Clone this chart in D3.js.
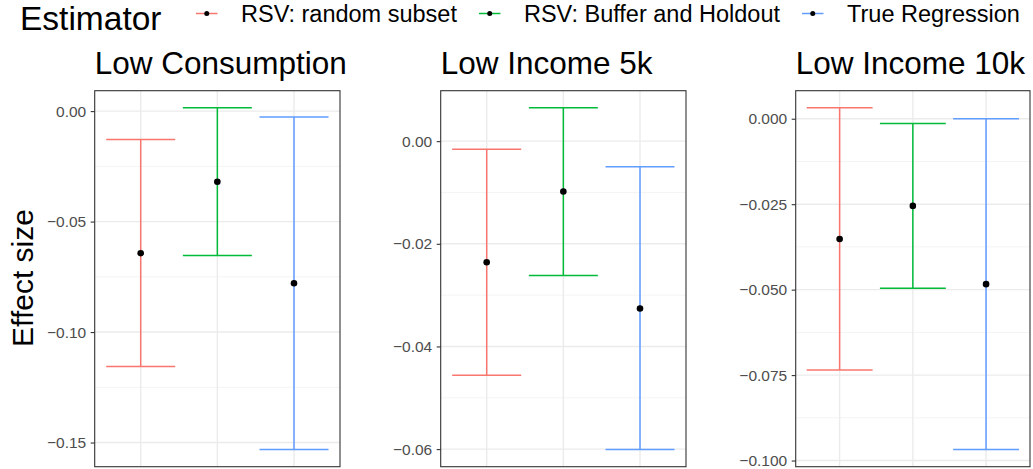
<!DOCTYPE html>
<html>
<head>
<meta charset="utf-8">
<script src="https://cdn.jsdelivr.net/npm/d3@7"></script>
<style>
  html, body { margin: 0; padding: 0; background: #ffffff; }
  svg { display: block; font-family: "Liberation Sans", Arial, Helvetica, sans-serif; }
</style>
</head>
<body>
<svg id="chart" width="1033" height="469"></svg>
<script>
// Estimators compared in every panel
const estimators = ["RSV: random subset", "RSV: Buffer and Holdout", "True Regression"];
const estimatorColors = ["#F8766D", "#00BA38", "#619CFF"];

// Outcomes, one panel each
const outcomes = ["Low Consumption", "Low Income 5k", "Low Income 10k"];

// Point estimates and confidence bounds, [outcome][estimator]
const pointEst = [
  [-0.0643, -0.0320, -0.0779],
  [-0.0236, -0.0098, -0.0326],
  [-0.0352, -0.0255, -0.0484]
];
const lowerCI = [
  [-0.1156, -0.0653, -0.1532],
  [-0.0456, -0.0262, -0.0601],
  [-0.0735, -0.0496, -0.0968]
];
const upperCI = [
  [-0.0129, 0.0015, -0.0027],
  [-0.0016, 0.0065, -0.0050],
  [0.0032, -0.0014, 0.0000]
];

// Y axis breaks and their labels per panel
const yTicks = [
  [0, -0.05, -0.10, -0.15],
  [0, -0.02, -0.04, -0.06],
  [0, -0.025, -0.050, -0.075, -0.100]
];
const yTickLabels = [
  ["0.00", "\u22120.05", "\u22120.10", "\u22120.15"],
  ["0.00", "\u22120.02", "\u22120.04", "\u22120.06"],
  ["0.000", "\u22120.025", "\u22120.050", "\u22120.075", "\u22120.100"]
];

const yTitle = "Effect size";
const legendTitle = "Estimator";

// ---- layout ----
const svg = d3.select("#chart");
const panelLeft = [94.7, 440.7, 795.7];
const panelRight = [340, 686, 1030];
const panelTop = 90.7, panelBottom = 466.7;

const gridMajor = "#EBEBEB";
const gridMinor = "#F4F4F4";

outcomes.forEach((name, p) => {
  const L = panelLeft[p], R = panelRight[p];
  const g = svg.append("g");

  // y scale with 5% expansion of the data range
  const lo = d3.min(lowerCI[p]), hi = d3.max(upperCI[p]);
  const pad = (hi - lo) * 0.05;
  const y = d3.scaleLinear().domain([lo - pad, hi + pad]).range([panelBottom, panelTop]);

  // discrete x positions with 0.6 step padding at either end
  const x = d3.scalePoint().domain(estimators).range([L, R]).padding(0.6);
  const halfW = x.step() * 0.45;

  // minor grid midway between breaks
  const ticks = yTicks[p];
  const stepT = ticks[0] - ticks[1];
  const minor = [];
  for (let v = ticks[0] + stepT / 2; v >= lo - pad - 1e-9; v -= stepT) {
    if (v <= hi + pad) minor.push(v);
  }
  g.selectAll("line.minor").data(minor).join("line")
    .attr("x1", L).attr("x2", R)
    .attr("y1", d => y(d)).attr("y2", d => y(d))
    .attr("stroke", gridMinor).attr("stroke-width", 1);

  g.selectAll("line.majorY").data(ticks).join("line")
    .attr("x1", L).attr("x2", R)
    .attr("y1", d => y(d)).attr("y2", d => y(d))
    .attr("stroke", gridMajor).attr("stroke-width", 1.4);

  g.selectAll("line.majorX").data(estimators).join("line")
    .attr("x1", d => x(d)).attr("x2", d => x(d))
    .attr("y1", panelTop).attr("y2", panelBottom)
    .attr("stroke", gridMajor).attr("stroke-width", 1.4);

  // error bars
  estimators.forEach((est, i) => {
    const cx = x(est);
    const col = estimatorColors[i];
    const eb = g.append("g").attr("stroke", col).attr("stroke-width", 1.5).attr("fill", "none");
    eb.append("line").attr("x1", cx).attr("x2", cx)
      .attr("y1", y(upperCI[p][i])).attr("y2", y(lowerCI[p][i]));
    eb.append("line").attr("x1", cx - halfW).attr("x2", cx + halfW)
      .attr("y1", y(upperCI[p][i])).attr("y2", y(upperCI[p][i]));
    eb.append("line").attr("x1", cx - halfW).attr("x2", cx + halfW)
      .attr("y1", y(lowerCI[p][i])).attr("y2", y(lowerCI[p][i]));
  });

  // point estimates
  g.selectAll("circle.pt").data(pointEst[p]).join("circle")
    .attr("cx", (d, i) => x(estimators[i]))
    .attr("cy", d => y(d))
    .attr("r", 3.3)
    .attr("fill", "#000000");

  // panel border
  g.append("rect")
    .attr("x", L).attr("y", panelTop)
    .attr("width", R - L).attr("height", panelBottom - panelTop)
    .attr("fill", "none").attr("stroke", "#333333").attr("stroke-width", 1.1);

  // y axis
  const axis = d3.axisLeft(y)
    .tickValues(ticks)
    .tickFormat((d, i) => yTickLabels[p][i])
    .tickSize(4)
    .tickPadding(4.5);
  const ag = g.append("g").attr("transform", `translate(${L},0)`).call(axis);
  ag.select(".domain").remove();
  ag.selectAll(".tick line").attr("stroke", "#333333").attr("stroke-width", 1.1);
  ag.selectAll(".tick text")
    .attr("fill", "#4D4D4D")
    .style("font-size", "15.5px")
    .style("font-family", "'Liberation Sans', Arial, Helvetica, sans-serif");

  // panel title
  g.append("text")
    .attr("x", L).attr("y", 74)
    .attr("fill", "#000000")
    .style("font-size", "31.5px")
    .text(name);
});

// y axis title
svg.append("text")
  .attr("transform", "translate(33,278) rotate(-90)")
  .attr("text-anchor", "middle")
  .attr("fill", "#000000")
  .style("font-size", "30px")
  .text(yTitle);

// legend across the top
const lg = svg.append("g");
lg.append("text")
  .attr("x", 20).attr("y", 30.3)
  .attr("fill", "#000000")
  .style("font-size", "33.5px")
  .text(legendTitle);

let cursor = 196;
const keyW = 21.5, keyY = 13.5;
estimators.forEach((est, i) => {
  lg.append("line")
    .attr("x1", cursor).attr("x2", cursor + keyW)
    .attr("y1", keyY).attr("y2", keyY)
    .attr("stroke", estimatorColors[i]).attr("stroke-width", 1.5);
  lg.append("circle")
    .attr("cx", cursor + keyW / 2).attr("cy", keyY)
    .attr("r", 2.5).attr("fill", "#000000");
  const t = lg.append("text")
    .attr("x", cursor + keyW + 23.5).attr("y", 22)
    .attr("fill", "#000000")
    .style("font-size", "23.5px")
    .text(est);
  cursor = cursor + keyW + 23.5 + t.node().getComputedTextLength() + 22;
});
</script>
</body>
</html>
